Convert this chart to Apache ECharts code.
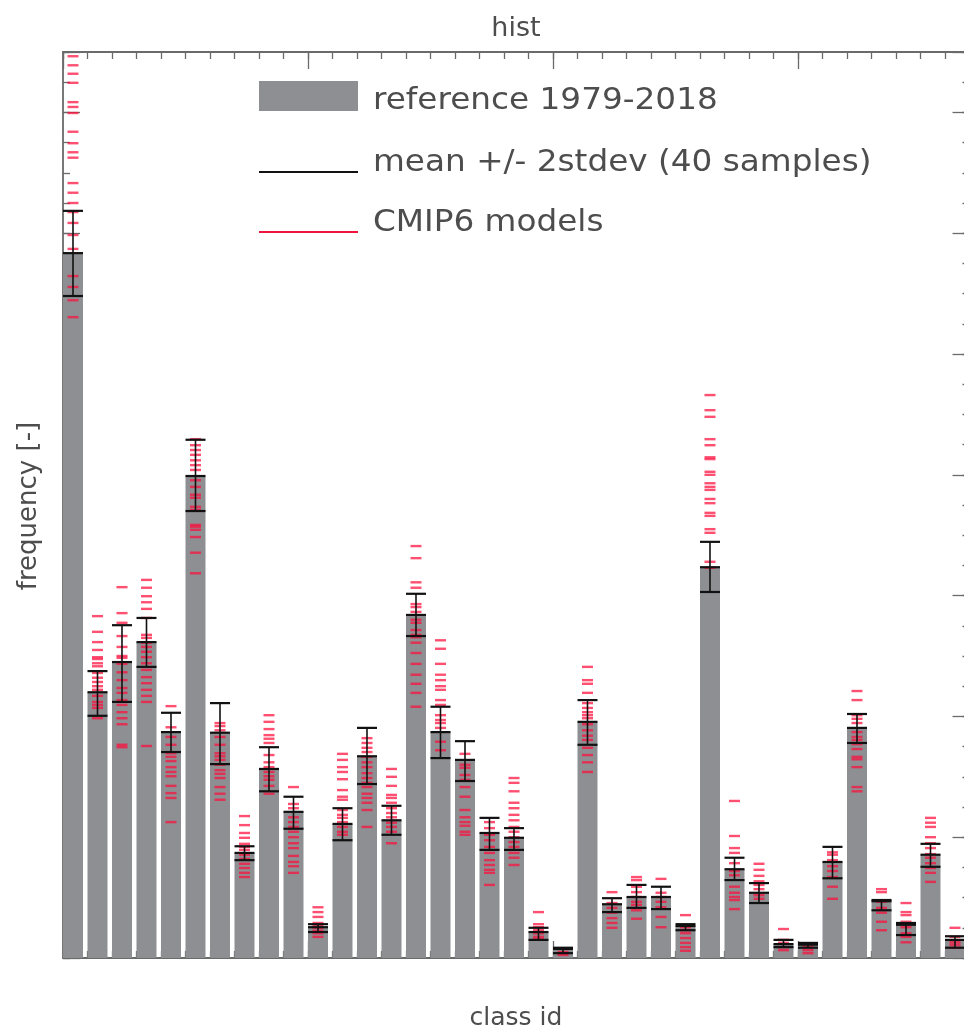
<!DOCTYPE html>
<html><head><meta charset="utf-8">
<script src="https://cdn.jsdelivr.net/npm/echarts@6/dist/echarts.min.js"></script>
<style>html,body{margin:0;padding:0;background:#fff;}#c{width:964px;height:1030px;}</style>
</head><body><div id="c"></div>
<script>
// ---------------- data ----------------
const classIds = [1,2,3,4,5,6,7,8,9,10,11,12,13,14,15,16,17,18,19,20,21,22,23,24,25,26,27,28,29,30,31,32,33,34,35,36,37];

const reference = [0.1167,0.0440,0.0490,0.0523,0.0374,0.0798,0.0373,0.0174,0.0313,0.0242,
  0.0051,0.0222,0.0334,0.0228,0.0568,0.0374,0.0328,0.0207,0.0199,0.0043,
  0.0015,0.0391,0.0089,0.0101,0.0101,0.0053,0.0647,0.0147,0.0108,0.0023,
  0.0022,0.0159,0.0381,0.0094,0.0055,0.0171,0.0030];

const errHigh = [0.1237,0.0475,0.0551,0.0563,0.0406,0.0858,0.0422,0.0185,0.0349,0.0267,
  0.0056,0.0248,0.0381,0.0252,0.0603,0.0416,0.0359,0.0232,0.0215,0.0050,
  0.0017,0.0427,0.0099,0.0121,0.0118,0.0056,0.0689,0.0166,0.0124,0.0030,
  0.0025,0.0184,0.0404,0.0096,0.0058,0.0189,0.0036];

const errLow = [0.1096,0.0401,0.0424,0.0482,0.0341,0.0740,0.0321,0.0162,0.0276,0.0214,
  0.0043,0.0195,0.0288,0.0204,0.0533,0.0331,0.0293,0.0179,0.0179,0.0030,
  0.0008,0.0353,0.0076,0.0083,0.0081,0.0046,0.0606,0.0129,0.0091,0.0018,
  0.0017,0.0132,0.0356,0.0079,0.0038,0.0151,0.0017];

const cmip6Models = [
  [0.1493,0.1478,0.1464,0.1449,0.1417,0.1409,0.1399,0.1368,0.1349,0.1334,0.1325,0.1283,0.1267,0.1250,0.1235,0.1217,0.1197,0.1174,0.1129,0.1111,0.1089,0.1061],
  [0.0566,0.0540,0.0523,0.0510,0.0498,0.0495,0.0488,0.0483,0.0472,0.0464,0.0457,0.0450,0.0444,0.0434,0.0424,0.0419,0.0414,0.0397],
  [0.0614,0.0571,0.0555,0.0533,0.0515,0.0500,0.0497,0.0487,0.0473,0.0460,0.0447,0.0439,0.0427,0.0419,0.0407,0.0397,0.0387,0.0353,0.0349],
  [0.0626,0.0613,0.0599,0.0589,0.0578,0.0563,0.0535,0.0530,0.0522,0.0515,0.0507,0.0498,0.0488,0.0477,0.0465,0.0455,0.0444,0.0434,0.0424,0.0351],
  [0.0417,0.0382,0.0366,0.0353,0.0339,0.0333,0.0326,0.0316,0.0308,0.0301,0.0285,0.0273,0.0265,0.0225],
  [0.0859,0.0849,0.0841,0.0833,0.0824,0.0816,0.0808,0.0791,0.0780,0.0767,0.0762,0.0747,0.0742,0.0717,0.0714,0.0709,0.0697,0.0671,0.0637],
  [0.0389,0.0384,0.0377,0.0366,0.0353,0.0339,0.0334,0.0328,0.0320,0.0311,0.0305,0.0298,0.0283,0.0272,0.0262],
  [0.0235,0.0220,0.0207,0.0199,0.0189,0.0184,0.0179,0.0171,0.0164,0.0156,0.0149,0.0141,0.0134],
  [0.0402,0.0391,0.0379,0.0369,0.0363,0.0356,0.0336,0.0324,0.0316,0.0308,0.0301,0.0295,0.0285,0.0272],
  [0.0283,0.0255,0.0248,0.0233,0.0225,0.0217,0.0209,0.0200,0.0190,0.0182,0.0169,0.0159,0.0152,0.0141],
  [0.0084,0.0076,0.0068,0.0058,0.0053,0.0050,0.0045,0.0041,0.0035],
  [0.0338,0.0328,0.0316,0.0308,0.0296,0.0278,0.0267,0.0262,0.0245,0.0237,0.0232,0.0225,0.0217,0.0209,0.0204],
  [0.0364,0.0356,0.0348,0.0341,0.0333,0.0324,0.0316,0.0306,0.0298,0.0290,0.0283,0.0272,0.0265,0.0257,0.0245,0.0217],
  [0.0313,0.0300,0.0285,0.0270,0.0265,0.0257,0.0248,0.0240,0.0233,0.0224,0.0217,0.0209,0.0190],
  [0.0682,0.0662,0.0622,0.0613,0.0586,0.0581,0.0573,0.0560,0.0555,0.0543,0.0535,0.0531,0.0522,0.0505,0.0487,0.0469,0.0454,0.0439,0.0416],
  [0.0526,0.0512,0.0487,0.0469,0.0460,0.0450,0.0444,0.0427,0.0419,0.0402,0.0394,0.0389,0.0381,0.0358,0.0344],
  [0.0338,0.0320,0.0315,0.0303,0.0295,0.0283,0.0267,0.0245,0.0233,0.0225,0.0219,0.0209,0.0204],
  [0.0225,0.0215,0.0204,0.0195,0.0184,0.0174,0.0162,0.0154,0.0146,0.0141,0.0121],
  [0.0298,0.0290,0.0276,0.0257,0.0248,0.0237,0.0228,0.0217,0.0209,0.0200,0.0192,0.0184,0.0174,0.0166,0.0154],
  [0.0076,0.0056,0.0051,0.0046,0.0041,0.0035,0.0031],
  [0.0010,0.0008,0.0005],
  [0.0482,0.0460,0.0454,0.0439,0.0422,0.0414,0.0407,0.0402,0.0397,0.0387,0.0377,0.0368,0.0361,0.0348,0.0336,0.0324,0.0308],
  [0.0109,0.0091,0.0083,0.0075,0.0066,0.0058,0.0050],
  [0.0134,0.0129,0.0118,0.0109,0.0101,0.0093,0.0088,0.0079,0.0065],
  [0.0131,0.0108,0.0101,0.0093,0.0084,0.0068,0.0051],
  [0.0071,0.0051,0.0046,0.0041,0.0033,0.0025,0.0018,0.0012],
  [0.0932,0.0907,0.0896,0.0859,0.0849,0.0829,0.0826,0.0805,0.0800,0.0786,0.0780,0.0775,0.0760,0.0753,0.0737,0.0732,0.0710,0.0704,0.0656,0.0646],
  [0.0260,0.0202,0.0182,0.0174,0.0157,0.0144,0.0137,0.0118,0.0108,0.0101,0.0096,0.0081],
  [0.0156,0.0146,0.0136,0.0127,0.0121,0.0114,0.0104,0.0098],
  [0.0048,0.0030,0.0025,0.0018,0.0013],
  [0.0023,0.0018,0.0013,0.0008],
  [0.0175,0.0171,0.0162,0.0152,0.0144,0.0134,0.0118,0.0098],
  [0.0442,0.0427,0.0402,0.0396,0.0389,0.0374,0.0366,0.0361,0.0354,0.0346,0.0333,0.0329,0.0316,0.0283,0.0276],
  [0.0114,0.0109,0.0093,0.0083,0.0075,0.0060,0.0046],
  [0.0091,0.0076,0.0071,0.0060,0.0051,0.0041,0.0035,0.0026],
  [0.0232,0.0224,0.0217,0.0200,0.0190,0.0182,0.0172,0.0166,0.0157,0.0149,0.0141,0.0126],
  [0.0050,0.0035,0.0026,0.0022,0.0017]
];

const titleText = 'hist';
const xTitle = 'class id';
const yTitle = 'frequency [-]';
const legendLabels = ['reference 1979-2018', 'mean +/- 2stdev (40 samples)', 'CMIP6 models'];

// ---------------- styling ----------------
const X_MAX = classIds.length;      // one unit per class
const Y_MAX = 0.15;
const BAR_FRAC = 0.816;             // bar width as fraction of class slot
const BAR_COLOR = '#8d8f92';
const ERR_COLOR = '#111111';
const MODEL_COLOR = 'rgba(255,12,60,0.72)';
const AXIS_COLOR = '#6a6a6a';
const TEXT_COLOR = '#4d4d4d';
const FONT = '"DejaVu Sans", sans-serif';

const barData = reference.map((v, i) => [i, v]);
const errData = reference.map((v, i) => [i, errLow[i], errHigh[i], v]);
const modelData = [];
cmip6Models.forEach((arr, i) => arr.forEach(v => modelData.push([i, v])));

function xAx(pos, interval, len, showLine) {
  return {type:'value', position:pos, min:0, max:X_MAX, interval:interval,
    axisLine:{show:showLine, onZero:false, lineStyle:{color:AXIS_COLOR, width:1.8}},
    axisTick:{show:true, inside:true, length:len, lineStyle:{color:AXIS_COLOR, width:1.3}},
    axisLabel:{show:false}, splitLine:{show:false}};
}
function yAx(pos, interval, len, showLine) {
  return {type:'value', position:pos, min:0, max:Y_MAX, interval:interval,
    axisLine:{show:showLine, onZero:false, lineStyle:{color:AXIS_COLOR, width:1.8}},
    axisTick:{show:true, inside:true, length:len, lineStyle:{color:AXIS_COLOR, width:1.3}},
    axisLabel:{show:false}, splitLine:{show:false}};
}

function renderBar(params, api) {
  const i = api.value(0), v = api.value(1);
  const pTop = api.coord([i, v]);
  const pBot = api.coord([i + BAR_FRAC, 0]);
  return {type:'rect', shape:{x:pTop[0], y:pTop[1], width:pBot[0]-pTop[0], height:pBot[1]-pTop[1]},
    style:{fill:BAR_COLOR}};
}
function renderErr(params, api) {
  const i = api.value(0);
  const lo = api.coord([i, api.value(1)]);
  const hi = api.coord([i + BAR_FRAC, api.value(2)]);
  const mid = api.coord([i, api.value(3)]);
  const xL = lo[0], xR = hi[0], xc = (xL + xR) / 2;
  const ls = {stroke:ERR_COLOR, lineWidth:2.2};
  return {type:'group', children:[
    {type:'line', shape:{x1:xc, y1:lo[1], x2:xc, y2:hi[1]}, style:{stroke:ERR_COLOR, lineWidth:1.6}},
    {type:'line', shape:{x1:xL, y1:lo[1], x2:xR, y2:lo[1]}, style:ls},
    {type:'line', shape:{x1:xL, y1:hi[1], x2:xR, y2:hi[1]}, style:ls},
    {type:'line', shape:{x1:xL, y1:mid[1], x2:xR, y2:mid[1]}, style:ls}
  ]};
}
function renderModel(params, api) {
  const i = api.value(0);
  const pl = api.coord([i, api.value(1)]);
  const pr = api.coord([i + BAR_FRAC, api.value(1)]);
  const xc = (pl[0] + pr[0]) / 2;
  return {type:'rect', shape:{x:xc - 5.5, y:pl[1] - 1.2, width:11, height:2.4}, style:{fill:MODEL_COLOR}};
}

const chart = echarts.init(document.getElementById('c'), null, {renderer:'canvas'});
chart.setOption({
  backgroundColor:'#ffffff',
  animation:false,
  grid:{left:63, top:52, width:906.5, height:906, containLabel:false, outerBoundsMode:'none'},
  xAxis:[xAx('bottom',1,7,true), xAx('top',1,7,true), xAx('top',10,17,false), xAx('bottom',10,17,false)],
  yAxis:[yAx('left',0.005,7,true), yAx('left',0.02,17,false), yAx('right',0.005,7,true), yAx('right',0.02,17,false)],
  series:[
    {type:'custom', name:legendLabels[0], xAxisIndex:0, yAxisIndex:0, renderItem:renderBar, data:barData, z:2, clip:false},
    {type:'custom', name:legendLabels[2], xAxisIndex:0, yAxisIndex:0, renderItem:renderModel, data:modelData, z:3, clip:false},
    {type:'custom', name:legendLabels[1], xAxisIndex:0, yAxisIndex:0, renderItem:renderErr, data:errData, z:4, clip:false}
  ],
  graphic:[
    {type:'text', x:516, y:29, style:{text:titleText, font:'27px ' + FONT, fill:TEXT_COLOR, align:'center', verticalAlign:'middle'}},
    {type:'text', x:516, y:1018, style:{text:xTitle, font:'25px ' + FONT, fill:TEXT_COLOR, align:'center', verticalAlign:'middle'}},
    {type:'text', x:29, y:506, rotation:Math.PI/2, style:{text:yTitle, font:'26px ' + FONT, fill:TEXT_COLOR, align:'center', verticalAlign:'middle'}},
    {type:'rect', shape:{x:259, y:81, width:99, height:30}, style:{fill:BAR_COLOR}},
    {type:'line', shape:{x1:259, y1:172, x2:358, y2:172}, style:{stroke:ERR_COLOR, lineWidth:2}},
    {type:'line', shape:{x1:259, y1:232, x2:358, y2:232}, style:{stroke:'rgb(240,20,60)', lineWidth:2}},
    {type:'text', x:373, y:101, scaleX:1.09, style:{text:legendLabels[0], font:'30px ' + FONT, fill:TEXT_COLOR, align:'left', verticalAlign:'middle'}},
    {type:'text', x:373, y:163, scaleX:1.09, style:{text:legendLabels[1], font:'30px ' + FONT, fill:TEXT_COLOR, align:'left', verticalAlign:'middle'}},
    {type:'text', x:373, y:223, scaleX:1.09, style:{text:legendLabels[2], font:'30px ' + FONT, fill:TEXT_COLOR, align:'left', verticalAlign:'middle'}}
  ]
});
</script></body></html>
